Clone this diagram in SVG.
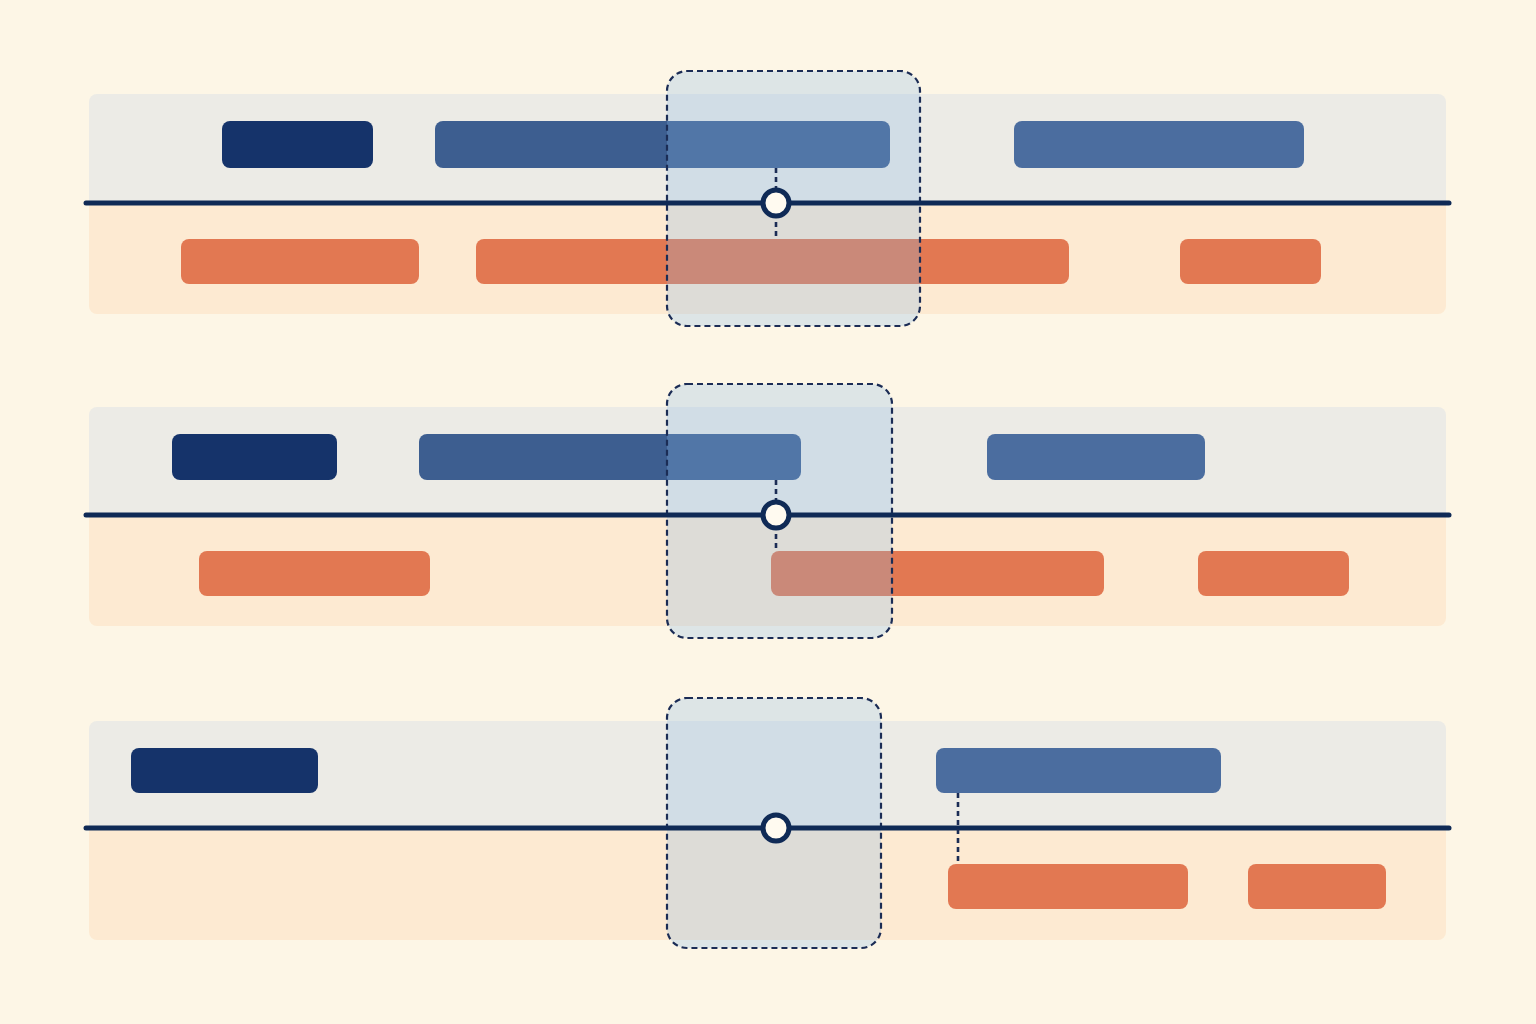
<svg xmlns="http://www.w3.org/2000/svg" width="1536" height="1024" viewBox="0 0 1536 1024">
<style>
.laneTop{fill:#ECEBE6}
.laneBot{fill:#FDEAD2}
.dark{fill:#15336A}
.blue{fill:#3D5E90}
.blue2{fill:#4B6D9F}
.orange{fill:#E27852}
.axis{stroke:#0F2A56;stroke-width:5;stroke-linecap:round}
.win{fill:#89B8E6;fill-opacity:0.27;stroke:#1B2C55;stroke-width:2.2;stroke-dasharray:6 4}
.link{stroke:#1B2C55;stroke-width:2.6;stroke-dasharray:5 4;fill:none}
.pt{fill:#FFFAF0;stroke:#0F2A56;stroke-width:5}
</style>
<rect width="1536" height="1024" fill="#FDF6E6"/>

<g id="panel1">
  <rect class="laneTop" x="89" y="94" width="1357" height="115" rx="8"/>
  <rect class="laneBot" x="89" y="203" width="1357" height="111" rx="8"/>
  <rect class="laneBot" x="89" y="203" width="1357" height="20"/>
  <rect class="dark" x="222" y="121" width="151" height="47" rx="8"/>
  <rect class="blue" x="435" y="121" width="455" height="47" rx="8"/>
  <rect class="blue2" x="1014" y="121" width="290" height="47" rx="8"/>
  <rect class="orange" x="181" y="239" width="238" height="45" rx="8"/>
  <rect class="orange" x="476" y="239" width="593" height="45" rx="8"/>
  <rect class="orange" x="1180" y="239" width="141" height="45" rx="8"/>
</g>

<g id="panel2">
  <rect class="laneTop" x="89" y="407" width="1357" height="114" rx="8"/>
  <rect class="laneBot" x="89" y="515" width="1357" height="111" rx="8"/>
  <rect class="laneBot" x="89" y="515" width="1357" height="20"/>
  <rect class="dark" x="172" y="434" width="165" height="46" rx="8"/>
  <rect class="blue" x="419" y="434" width="382" height="46" rx="8"/>
  <rect class="blue2" x="987" y="434" width="218" height="46" rx="8"/>
  <rect class="orange" x="199" y="551" width="231" height="45" rx="8"/>
  <rect class="orange" x="771" y="551" width="333" height="45" rx="8"/>
  <rect class="orange" x="1198" y="551" width="151" height="45" rx="8"/>
</g>

<g id="panel3">
  <rect class="laneTop" x="89" y="721" width="1357" height="113" rx="8"/>
  <rect class="laneBot" x="89" y="828" width="1357" height="112" rx="8"/>
  <rect class="laneBot" x="89" y="828" width="1357" height="20"/>
  <rect class="dark" x="131" y="748" width="187" height="45" rx="8"/>
  <rect class="blue2" x="936" y="748" width="285" height="45" rx="8"/>
  <rect class="orange" x="948" y="864" width="240" height="45" rx="8"/>
  <rect class="orange" x="1248" y="864" width="138" height="45" rx="8"/>
</g>

<g id="windows">
  <rect id="window1" class="win" x="667" y="71" width="253" height="255" rx="20"/>
  <rect id="window2" class="win" x="667" y="384" width="225" height="254" rx="20"/>
  <rect id="window3" class="win" x="667" y="698" width="214" height="250" rx="20"/>
</g>

<g id="axes">
  <line class="axis" x1="86" y1="203" x2="1449" y2="203"/>
  <line class="axis" x1="86" y1="515" x2="1449" y2="515"/>
  <line class="axis" x1="86" y1="828" x2="1449" y2="828"/>
</g>

<g id="connectors">
  <line class="link" x1="776" y1="168" x2="776" y2="239"/>
  <line class="link" x1="776" y1="480" x2="776" y2="551"/>
  <line class="link" x1="958" y1="793" x2="958" y2="864"/>
</g>

<g id="points">
  <circle id="point1" class="pt" cx="776" cy="203" r="13"/>
  <circle id="point2" class="pt" cx="776" cy="515" r="13"/>
  <circle id="point3" class="pt" cx="776" cy="828" r="13"/>
</g>
</svg>
